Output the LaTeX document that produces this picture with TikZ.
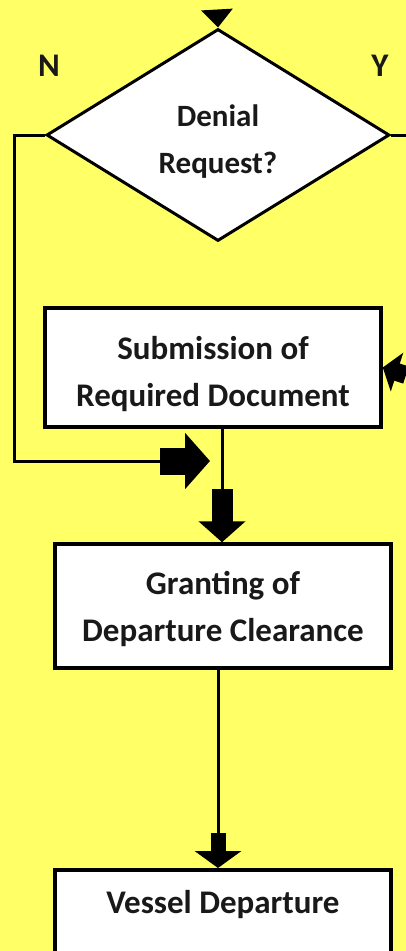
\documentclass[tikz,border=0pt]{standalone}
\usepackage{fontspec}
\setmainfont{Carlito}
\usetikzlibrary{shapes.geometric,arrows.meta}
\definecolor{bgyellow}{RGB}{255,255,102}
\begin{document}
\begin{tikzpicture}[x=1pt,y=-1pt,
  conn/.style={line width=3pt,draw=black},
  boxtxt/.style={font=\bfseries\fontsize{33}{47}\selectfont,text=black!90},
  box/.style={draw=black,line width=3.5pt,fill=white,minimum width=336pt,inner sep=0pt,align=center,boxtxt},
  decision/.style={draw=black,line width=3pt,fill=white,diamond,minimum width=343pt,minimum height=212pt,inner sep=0pt,align=center,font=\bfseries\fontsize{31}{47}\selectfont,text=black!90},
  lbl/.style={font=\bfseries\fontsize{33}{40}\selectfont,text=black!90}
]
\fill[bgyellow] (0,0) rectangle (406,951);
\useasboundingbox (0,0) rectangle (406,951);

% nodes
\node[decision] (dec) at (218,135) {};
\node[font=\bfseries\fontsize{31}{47}\selectfont,text=black!90,align=center] (dectext) at (218,142) {Denial\\Request?};
\node[lbl] (nlab) at (49,66) {N};
\node[lbl] (ylab) at (380,66) {Y};
\node[box,minimum height=119pt] (sub) at (213,367.5) {};
\node[boxtxt,align=center] (subtext) at (213,374) {Submission of\\Required Document};
\node[box,minimum height=124pt] (gra) at (223,606) {};
\node[boxtxt,align=center] (gratext) at (223,609) {Granting of\\Departure Clearance};
\node[box,minimum width=336pt,minimum height=115pt,anchor=north] (ves) at (223,868) {};
\node[boxtxt] (vestext) at (223,905) {Vessel Departure};

% coordinates
\coordinate (topin) at (217,10);
\coordinate (nleft) at (14,135);
\coordinate (nbot) at (14,461);
\coordinate (nblk) at (160,461);
\coordinate (ntip) at (210,461);
\coordinate (yright) at (406,135);
\coordinate (rin) at (406,375);
\coordinate (s1) at (222,427);
\coordinate (s2) at (222,489);
\coordinate (g1) at (218,668);
\coordinate (g2) at (218,833);

% top arrow
\draw[conn,-{Triangle[length=18pt,width=31pt]}] (topin) -- (dec.north);
% N branch
\draw[conn] (dec.west) -- (nleft) -- (nbot) -- (nblk);
\draw[line width=27pt,-{Triangle[length=25pt,width=55pt]}] (nblk) -- (ntip);
% Y branch
\draw[conn] (dec.east) -- (yright);
\draw[line width=18pt,-{Triangle[length=15pt,width=40pt]}] (rin) -- (sub.east);
% submission -> granting
\draw[conn] (s1) -- (s2);
\draw[line width=21pt,-{Triangle[length=21pt,width=46pt]}] (s2) -- (gra.north -| s2);
% granting -> vessel
\draw[conn] (g1) -- (g2);
\draw[line width=15pt,-{Triangle[length=17pt,width=46pt]}] (g2) -- (ves.north -| g2);
\end{tikzpicture}
\end{document}
